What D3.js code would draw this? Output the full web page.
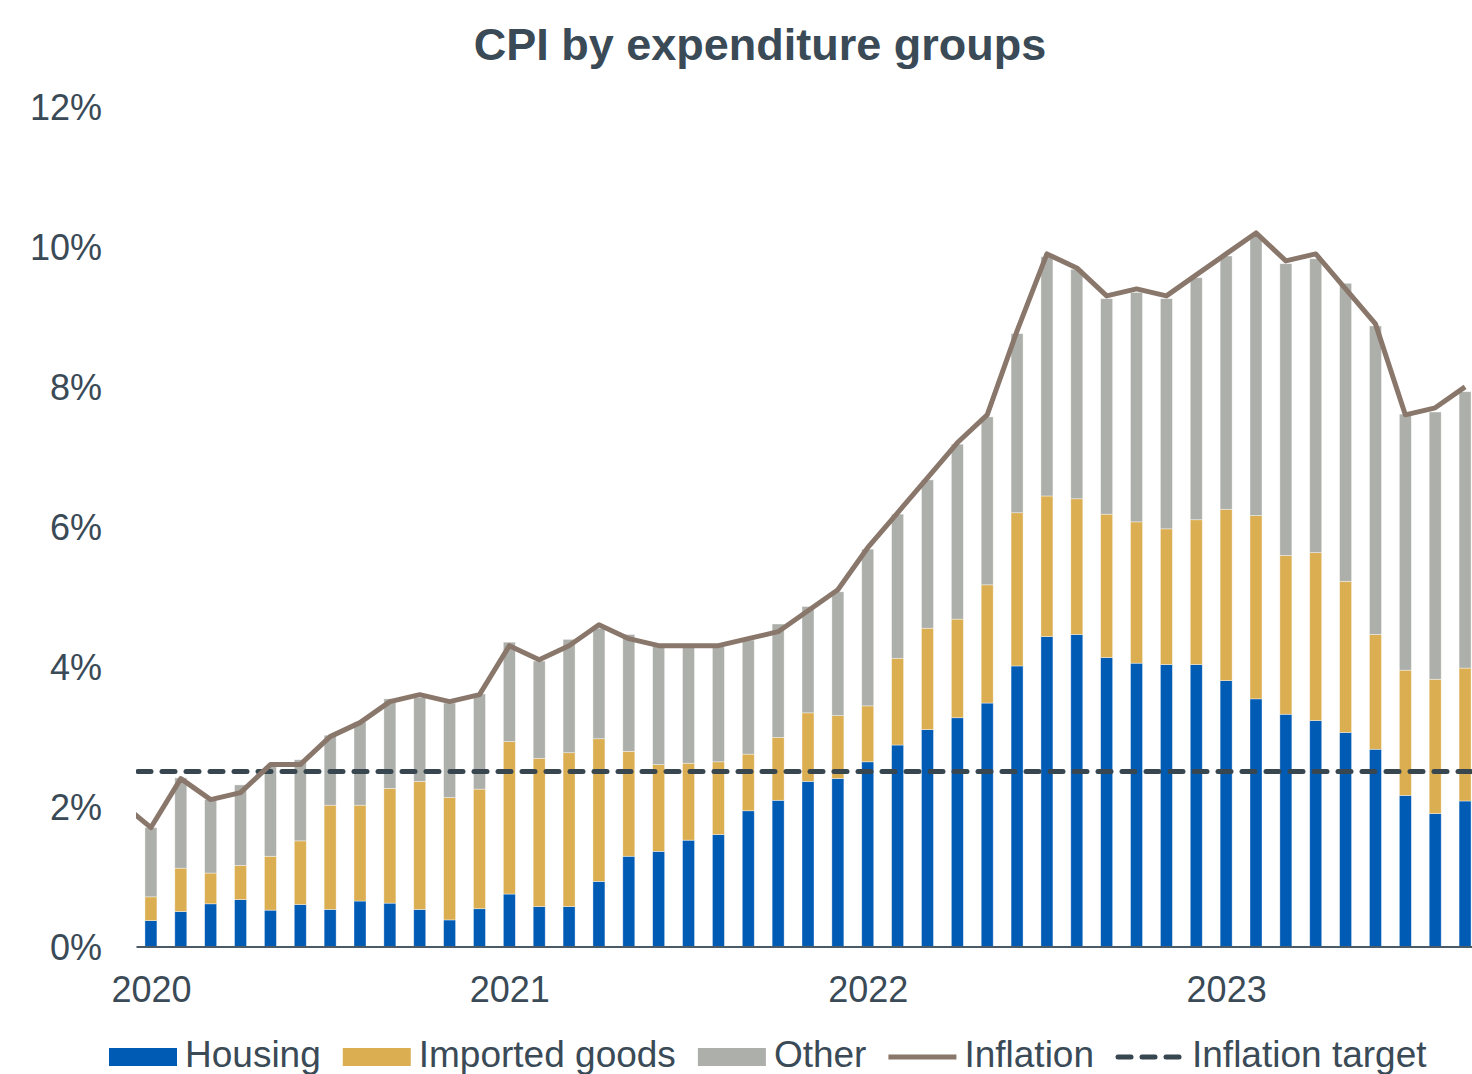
<!DOCTYPE html>
<html>
<head>
<meta charset="utf-8">
<script src="https://cdn.jsdelivr.net/npm/d3@7"></script>
<style>
    body { margin: 0; background: #fff; }
    svg { display: block; font-family: "Liberation Sans", Arial, sans-serif; }
</style>
</head>
<body>
<svg id="chart" width="1472" height="1074"></svg>
<script>
// Monthly data, Jan 2020 - Sep 2023 (percentage points)
const years = ["2020", "2021", "2022", "2023"];
const seriesNames = ["Housing", "Imported goods", "Other"];
const housing = [
    0.37, 0.50, 0.61, 0.67, 0.52, 0.60, 0.53, 0.65, 0.62, 0.53, 0.38, 0.54,
    0.75, 0.57, 0.57, 0.93, 1.29, 1.36, 1.52, 1.60, 1.94, 2.09, 2.36, 2.40,
    2.64, 2.88, 3.10, 3.27, 3.48, 4.01, 4.43, 4.46, 4.13, 4.05, 4.03, 4.03,
    3.80, 3.54, 3.32, 3.23, 3.06, 2.82, 2.16, 1.90, 2.08
];
const imported = [
    0.34, 0.62, 0.44, 0.49, 0.77, 0.91, 1.49, 1.37, 1.64, 1.83, 1.75, 1.71,
    2.18, 2.12, 2.20, 2.04, 1.50, 1.24, 1.10, 1.04, 0.81, 0.90, 0.98, 0.90,
    0.80, 1.24, 1.45, 1.41, 1.69, 2.19, 2.01, 1.94, 2.05, 2.02, 1.94, 2.07,
    2.45, 2.62, 2.27, 2.40, 2.16, 1.64, 1.79, 1.92, 1.90
];
const other = [
    0.99, 1.29, 1.05, 1.15, 1.28, 1.16, 1.00, 1.19, 1.28, 1.20, 1.35, 1.36,
    1.42, 1.39, 1.62, 1.58, 1.67, 1.69, 1.67, 1.65, 1.63, 1.62, 1.52, 1.77,
    2.24, 2.06, 2.12, 2.50, 2.40, 2.56, 3.42, 3.28, 3.08, 3.28, 3.29, 3.46,
    3.62, 3.99, 4.17, 4.20, 4.26, 4.41, 3.66, 3.82, 3.95
];
// inflation starts one month earlier (Dec 2019), clipped at the plot edge
const inflation = [
    2.05,
    1.7, 2.4, 2.1, 2.2, 2.6, 2.6, 3.0, 3.2, 3.5, 3.6, 3.5, 3.6,
    4.3, 4.1, 4.3, 4.6, 4.4, 4.3, 4.3, 4.3, 4.4, 4.5, 4.8, 5.1,
    5.7, 6.2, 6.7, 7.2, 7.6, 8.8, 9.9, 9.7, 9.3, 9.4, 9.3, 9.6,
    9.9, 10.2, 9.8, 9.9, 9.4, 8.9, 7.6, 7.7, 8.0
];
const inflationTarget = 2.5;
const yTicks = [0, 2, 4, 6, 8, 10, 12];

const colors = {
    "Housing": "#005bb5",
    "Imported goods": "#dcae52",
    "Other": "#adafaa",
    line: "#8a776b",
    target: "#37464f",
    text: "#3a4a56"
};

let svg = d3.select("#chart");
let margin = {left: 136, right: 1480, top: 107, bottom: 946.5};

// month index scale: index 0 = Jan 2020
let xScale = d3.scaleLinear()
    .domain([-0.5, housing.length - 0.5])
    .range([margin.left, margin.right]);
let barWidth = 12;

let yScale = d3.scaleLinear()
    .domain([0, 12])
    .range([margin.bottom, margin.top]);

// build stacked table
let table = housing.map(function (d, i) {
    return {i: i, "Housing": d, "Imported goods": imported[i], "Other": other[i]};
});
let stacked = d3.stack().keys(seriesNames)(table);

svg.append("defs").append("clipPath")
    .attr("id", "plot-clip")
    .append("rect")
    .attr("x", margin.left)
    .attr("y", 0)
    .attr("width", 1472 - margin.left)
    .attr("height", 1000);

// Title
svg.append("text")
    .attr("x", 760)
    .attr("y", 60)
    .attr("text-anchor", "middle")
    .attr("font-size", 45)
    .attr("font-weight", "bold")
    .attr("fill", colors.text)
    .text("CPI by expenditure groups");

// Y axis (labels only)
let yAxis = d3.axisLeft(yScale)
    .tickValues(yTicks)
    .tickSize(0)
    .tickPadding(34)
    .tickFormat(function (d) { return d + "%"; });
svg.append("g")
    .attr("class", "y-axis")
    .attr("transform", `translate(${margin.left}, 0)`)
    .call(yAxis)
    .call(function (g) { g.select(".domain").remove(); })
    .selectAll("text")
    .attr("font-size", 36)
    .attr("font-family", "Liberation Sans, Arial, sans-serif")
    .attr("fill", colors.text)
    .attr("dy", "0.36em");

// Bars
let barsGroup = svg.append("g").attr("clip-path", "url(#plot-clip)");
barsGroup.selectAll(".series")
    .data(stacked)
    .enter().append("g")
    .attr("class", "series")
    .attr("fill", function (d) { return colors[d.key]; })
    .selectAll("rect")
    .data(function (d) { return d; })
    .enter().append("rect")
    .attr("x", function (d) { return xScale(d.data.i) - barWidth / 2; })
    .attr("y", function (d) { return yScale(d[1]); })
    .attr("width", barWidth)
    .attr("height", function (d) { return yScale(d[0]) - yScale(d[1]); })
    .attr("stroke", "rgba(255,255,255,0.55)")
    .attr("stroke-width", 0.7);

// X axis
let xAxis = d3.axisBottom(xScale)
    .tickValues(years.map(function (d, k) { return k * 12; }))
    .tickSize(0)
    .tickPadding(30)
    .tickFormat(function (d) { return years[d / 12]; });
let xg = svg.append("g")
    .attr("class", "x-axis")
    .attr("transform", `translate(0, ${margin.bottom})`)
    .call(xAxis);
xg.select(".domain")
    .attr("stroke", "#4a5a66")
    .attr("stroke-width", 2);
xg.selectAll("text")
    .attr("font-size", 36)
    .attr("font-family", "Liberation Sans, Arial, sans-serif")
    .attr("fill", colors.text);

// Inflation target (dashed)
svg.append("line")
    .attr("clip-path", "url(#plot-clip)")
    .attr("x1", xScale(-0.5) + 2)
    .attr("x2", xScale(housing.length - 0.5))
    .attr("y1", yScale(inflationTarget))
    .attr("y2", yScale(inflationTarget))
    .attr("stroke", colors.target)
    .attr("stroke-width", 5)
    .attr("stroke-linecap", "round")
    .attr("stroke-dasharray", "13,11");

// Inflation line
let line = d3.line()
    .x(function (d, i) { return xScale(i - 1); })
    .y(function (d) { return yScale(d); });
svg.append("path")
    .datum(inflation)
    .attr("clip-path", "url(#plot-clip)")
    .attr("d", line)
    .attr("fill", "none")
    .attr("stroke", colors.line)
    .attr("stroke-width", 5)
    .attr("stroke-linejoin", "round");

// Legend
let legendItems = [
    {name: "Housing", type: "rect"},
    {name: "Imported goods", type: "rect"},
    {name: "Other", type: "rect"},
    {name: "Inflation", type: "line"},
    {name: "Inflation target", type: "dash"}
];
let legend = svg.append("g").attr("class", "legend");
let lx = 109;
let ly = 1057;
legendItems.forEach(function (d) {
    let item = legend.append("g");
    if (d.type === "rect") {
        item.append("rect")
            .attr("x", lx).attr("y", ly - 9)
            .attr("width", 68).attr("height", 18)
            .attr("fill", colors[d.name]);
    } else if (d.type === "line") {
        item.append("line")
            .attr("x1", lx).attr("x2", lx + 68)
            .attr("y1", ly).attr("y2", ly)
            .attr("stroke", colors.line)
            .attr("stroke-width", 5);
    } else {
        item.append("line")
            .attr("x1", lx + 2).attr("x2", lx + 66)
            .attr("y1", ly).attr("y2", ly)
            .attr("stroke", colors.target)
            .attr("stroke-width", 5)
            .attr("stroke-linecap", "round")
            .attr("stroke-dasharray", "13,11");
    }
    let t = item.append("text")
        .attr("x", lx + 76)
        .attr("y", ly + 10)
        .attr("font-size", 37)
        .attr("fill", colors.text)
        .text(d.name);
    lx = lx + 76 + t.node().getComputedTextLength() + 22;
});
</script>
</body>
</html>
